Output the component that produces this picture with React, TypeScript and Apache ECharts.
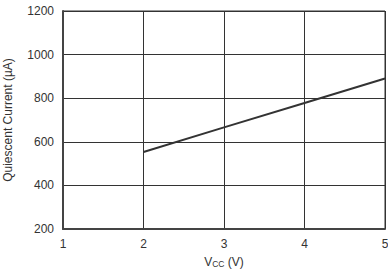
import React, { useEffect, useRef } from "react";
import * as echarts from "echarts";

const vcc = [2, 3, 4, 5];
const current = [553, 666, 778, 890];
const xTicks = [1, 2, 3, 4, 5];
const yTicks = [200, 400, 600, 800, 1000, 1200];

export default function App() {
  const ref = useRef<HTMLDivElement>(null);
  useEffect(() => {
    document.body.style.margin = "0";
    const chart = echarts.init(ref.current!, null, { renderer: "svg" });
    const font = "'Liberation Sans', Arial, sans-serif";
    chart.setOption({
      animation: false,
      grid: {
        left: 63,
        right: 3,
        top: 11,
        bottom: 44,
        show: true,
        borderColor: "#333",
        borderWidth: 1,
        outerBoundsMode: "none",
        containLabel: false,
      },
      xAxis: {
        type: "value",
        min: xTicks[0],
        max: xTicks[xTicks.length - 1],
        interval: 1,
        name: "{v|V}{s|CC}{v| (V)}",
        nameLocation: "middle",
        nameGap: 26,
        nameTextStyle: {
          rich: {
            v: { fontSize: 12, color: "#333", fontFamily: font },
            s: { fontSize: 8.5, color: "#333", fontFamily: font, verticalAlign: "bottom", padding: [4, 0, 0, 0] },
          },
        },
        axisLine: { show: true, onZero: false, lineStyle: { color: "#444", width: 2 } },
        axisTick: { show: false },
        axisLabel: { color: "#333", fontSize: 12, fontFamily: font, margin: 9, formatter: (v: number) => String(v) },
        splitLine: { show: true, lineStyle: { color: "#333", width: 1 } },
      },
      yAxis: {
        type: "value",
        min: yTicks[0],
        max: yTicks[yTicks.length - 1],
        interval: 200,
        name: "Quiescent Current (µA)",
        nameLocation: "middle",
        nameGap: 49,
        nameTextStyle: { color: "#333", fontSize: 12, fontFamily: font },
        axisLine: { show: true, lineStyle: { color: "#444", width: 2 } },
        axisTick: { show: false },
        axisLabel: { color: "#333", fontSize: 12, fontFamily: font, margin: 9, formatter: (v: number) => String(v) },
        splitLine: { show: true, lineStyle: { color: "#333", width: 1 } },
      },
      series: [
        {
          type: "line",
          data: vcc.map((v, i) => [v, current[i]]),
          symbol: "none",
          lineStyle: { color: "#333", width: 2 },
        },
      ],
    });
    return () => chart.dispose();
  }, []);
  return <div ref={ref} style={{ width: 388, height: 273 }} />;
}
